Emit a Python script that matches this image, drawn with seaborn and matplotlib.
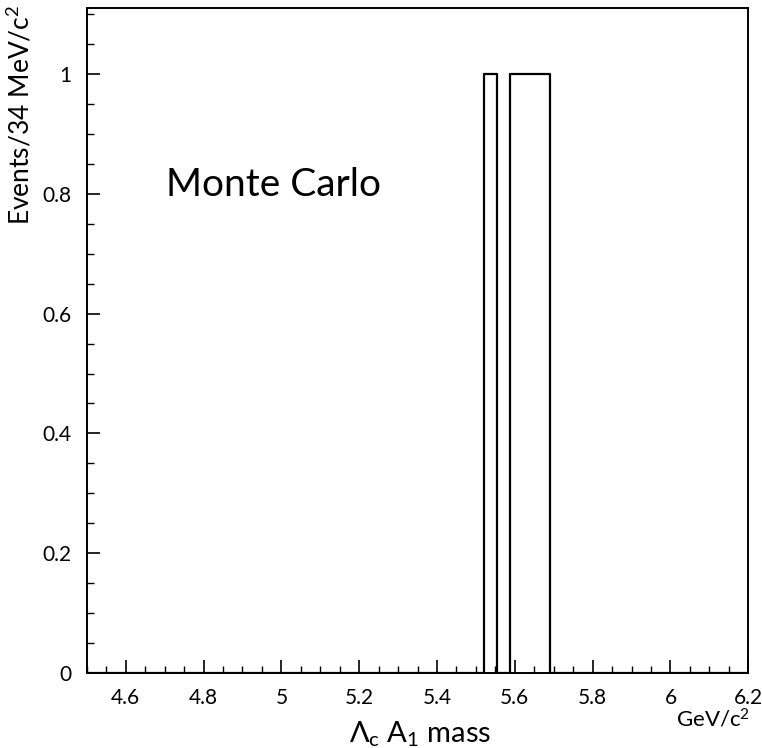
# Monte Carlo Lambda_c A1 invariant mass histogram
import numpy as np
import matplotlib
matplotlib.use("Agg")
import matplotlib.pyplot as plt
import seaborn as sns
from matplotlib.ticker import MultipleLocator, FuncFormatter

# data: reconstructed masses (GeV/c^2) of the Monte Carlo events
masses = [5.537, 5.605, 5.639, 5.673]
x_min, x_max, bin_width = 4.5, 6.2, 0.034
bin_edges = np.arange(x_min, x_max + bin_width / 2, bin_width)

sns.set_theme(style="white")
plt.rcParams["font.family"] = ["Lato", "DejaVu Sans"]
plt.rcParams["text.color"] = "black"
plt.rcParams["mathtext.fontset"] = "custom"
plt.rcParams["mathtext.rm"] = "Lato"
plt.rcParams["mathtext.it"] = "Lato"
plt.rcParams["mathtext.default"] = "regular"

fig = plt.figure(figsize=(7.62, 7.48), dpi=100)
ax = fig.add_axes([0.114, 0.1003, 0.868, 0.8887])

sns.histplot(x=masses, bins=bin_edges, element="step", fill=False,
             color="black", linewidth=1.6, ax=ax)

ax.set_xlim(x_min, x_max)
ax.set_ylim(0, 1.11)

ax.xaxis.set_major_locator(MultipleLocator(0.2))
ax.xaxis.set_minor_locator(MultipleLocator(0.05))
ax.yaxis.set_major_locator(MultipleLocator(0.2))
ax.yaxis.set_minor_locator(MultipleLocator(0.05))

fmt = FuncFormatter(lambda v, p: f"{v:g}")
ax.xaxis.set_major_formatter(fmt)
ax.yaxis.set_major_formatter(fmt)

ax.tick_params(which="both", direction="in", colors="black",
               labelcolor="black", labelsize=15,
               left=True, bottom=True, top=False, right=False)
ax.tick_params(which="major", length=9.5, width=1.2, pad=11)
ax.tick_params(which="minor", length=5, width=1.0)

for s in ax.spines.values():
    s.set_color("black")
    s.set_linewidth(1.4)

ax.set_xlabel("")
ax.set_ylabel("")

fig.text(0.027, 0.994, r"Events/34 MeV/c$^2$", rotation=90,
         ha="center", va="top", fontsize=19)
fig.text(0.551, 0.008, r"$\Lambda_c$ $A_1$ mass", ha="center",
         va="baseline", fontsize=21)
fig.text(0.984, 0.028, r"GeV/c$^2$", ha="right", va="baseline", fontsize=16)
ax.text(0.12, 0.734, "Monte Carlo", transform=ax.transAxes, fontsize=28,
        ha="left", va="center")

fig.savefig("out.png", dpi=100, facecolor="white")
